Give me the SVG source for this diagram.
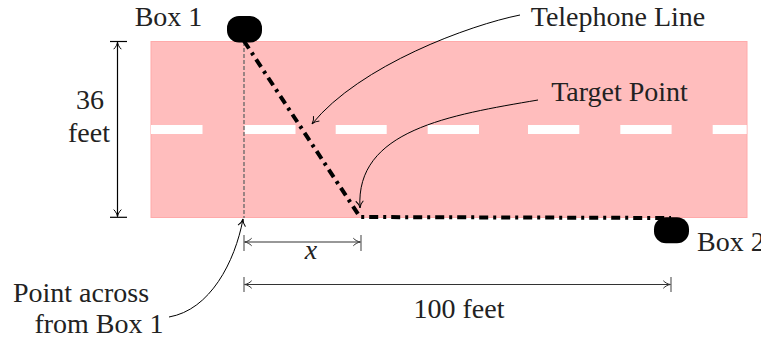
<svg xmlns="http://www.w3.org/2000/svg" width="761" height="339" viewBox="0 0 761 339">
<defs>
<style>
text { font-family: "Liberation Serif", "DejaVu Serif", serif; font-size: 28px; fill: #222; }
.mid { text-anchor: middle; }
.box { fill: #000; }
.dash { fill: #fff; }
.phone { fill: none; stroke: #000; stroke-width: 4; stroke-dasharray: 9 5 3 5; }
.guide { fill: none; stroke: #666; stroke-width: 1.3; stroke-dasharray: 4 2; }
.callout { fill: none; stroke: #000; stroke-width: 1; }
.dim { fill: none; stroke: #333; stroke-width: 1.2; }
.tick { fill: none; stroke: #777; stroke-width: 1.4; }
.dimk { fill: none; stroke: #000; stroke-width: 1.2; }
</style>
<marker id="to" viewBox="-8 -5 10 10" refX="0" refY="0" markerWidth="10" markerHeight="10" markerUnits="userSpaceOnUse" orient="auto-start-reverse">
<path d="M-7,-3.8 C-5,-1.6 -2,-0.3 0,0 C-2,0.3 -5,1.6 -7,3.8" fill="none" stroke="#000" stroke-width="1"/>
</marker>
<marker id="tog" viewBox="-8 -5 10 10" refX="0" refY="0" markerWidth="10" markerHeight="10" markerUnits="userSpaceOnUse" orient="auto-start-reverse">
<path d="M-7,-3.8 C-5,-1.6 -2,-0.3 0,0 C-2,0.3 -5,1.6 -7,3.8" fill="none" stroke="#333" stroke-width="1"/>
</marker>
</defs>

<g id="road">
<rect x="151" y="41.5" width="596" height="176" fill="#ffbdbd" stroke="#ffaaaa" stroke-width="1"/>
<rect class="dash" x="151" y="125" width="51.5" height="9"/>
<rect class="dash" x="244.5" y="125" width="51" height="9"/>
<rect class="dash" x="335.7" y="125" width="51" height="9"/>
<rect class="dash" x="427.7" y="125" width="51.3" height="9"/>
<rect class="dash" x="528" y="125" width="51.3" height="9"/>
<rect class="dash" x="620.3" y="125" width="51.3" height="9"/>
<rect class="dash" x="712.7" y="125" width="34" height="9"/>
</g>

<g id="guide">
<line class="guide" x1="244" y1="42" x2="244" y2="218"/>
</g>

<g id="telephone-line">
<path class="phone" d="M244,41 L360,217 L671,218"/>
</g>

<g id="box1">
<rect class="box" x="227" y="16" width="35" height="26.5" rx="12" ry="12"/>
<text class="mid" x="168.5" y="26">Box 1</text>
</g>

<g id="box2">
<rect class="box" x="654" y="217.3" width="35" height="26" rx="12" ry="12"/>
<text x="697" y="251">Box 2</text>
</g>

<g id="label-telephone">
<text class="mid" x="618" y="26">Telephone Line</text>
</g>
<g id="label-target">
<text class="mid" x="619.5" y="101">Target Point</text>
</g>
<g id="label-point-across">
<text class="mid" x="81" y="302">Point across</text>
<text class="mid" x="99" y="333">from Box 1</text>
</g>

<g id="connectors">
<path class="callout" d="M520,15 C470,25 360,65 312,124" marker-end="url(#to)"/>
<path class="callout" d="M538,100 C450,115 355,130 360,208" marker-end="url(#to)"/>
<path class="callout" d="M169,317 C210,310 235,262 243,219" marker-end="url(#to)"/>
</g>

<g id="dim-36">
<line class="dimk" x1="110" y1="41.5" x2="127" y2="41.5"/>
<line class="dimk" x1="110" y1="217.3" x2="127" y2="217.3"/>
<line class="dimk" x1="117.5" y1="42.2" x2="117.5" y2="216.6" marker-start="url(#to)" marker-end="url(#to)"/>
<text class="mid" x="90" y="109">36</text>
<text class="mid" x="89" y="142">feet</text>
</g>

<g id="dim-x">
<line class="tick" x1="244" y1="235" x2="244" y2="251"/>
<line class="tick" x1="361" y1="235" x2="361" y2="251"/>
<line class="dim" x1="244.7" y1="242" x2="360.3" y2="242" marker-start="url(#tog)" marker-end="url(#tog)"/>
<text class="mid" x="311" y="259" font-style="italic">x</text>
</g>

<g id="dim-100">
<line class="tick" x1="244" y1="277" x2="244" y2="292"/>
<line class="tick" x1="671" y1="277" x2="671" y2="292"/>
<line class="dim" x1="244.7" y1="284.5" x2="670.3" y2="284.5" marker-start="url(#tog)" marker-end="url(#tog)"/>
<text class="mid" x="459" y="318">100 feet</text>
</g>
</svg>
